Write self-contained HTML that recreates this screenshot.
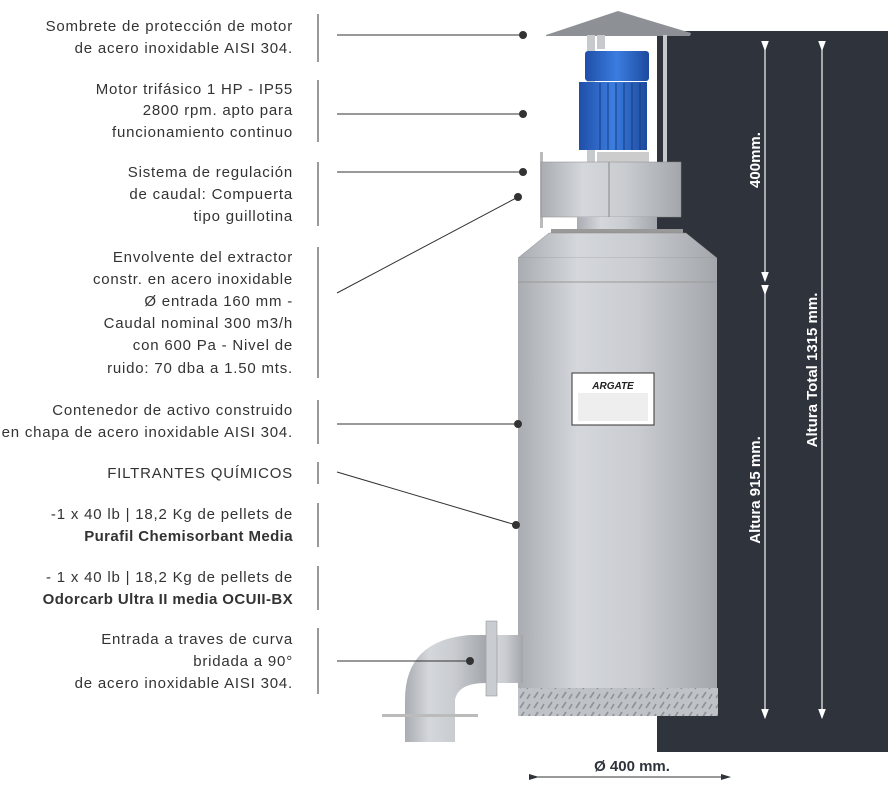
<!DOCTYPE html>
<html><head><meta charset="utf-8"><style>
body{margin:0;background:#fff;width:889px;height:781px;overflow:hidden;font-family:"Liberation Sans",sans-serif}
</style></head><body>
<svg width="889" height="781" viewBox="0 0 889 781" xmlns="http://www.w3.org/2000/svg">
<defs>
<linearGradient id="steel" x1="0" x2="1" y1="0" y2="0">
<stop offset="0" stop-color="#a9adb2"/><stop offset="0.3" stop-color="#d4d7db"/><stop offset="0.6" stop-color="#c9ccd0"/><stop offset="1" stop-color="#a3a7ac"/></linearGradient>
<linearGradient id="blue" x1="0" x2="1"><stop offset="0" stop-color="#1f4fa8"/><stop offset="0.5" stop-color="#3b7de0"/><stop offset="1" stop-color="#1d4a9e"/></linearGradient>
<pattern id="dia" width="14" height="10" patternUnits="userSpaceOnUse"><rect width="14" height="10" fill="#bfc2c6"/><path d="M2 8 L6 2 M9 9 L12 4" stroke="#8e9297" stroke-width="1.6"/></pattern>
<marker id="ah" markerWidth="8" markerHeight="8" refX="4" refY="4" orient="auto"><path d="M0 1 L8 4 L0 7Z" fill="#fff"/></marker>
<marker id="ahd" markerWidth="10" markerHeight="8" refX="5" refY="4" orient="auto"><path d="M0 1 L10 4 L0 7Z" fill="#2f343c"/></marker>
</defs>
<rect x="657" y="31" width="231" height="721" fill="#2f343c"/>
<g stroke="#e8e8e8" stroke-width="1.3">
<line x1="765" y1="46" x2="765" y2="277" marker-start="url(#ah)" marker-end="url(#ah)"/>
<line x1="765" y1="290" x2="765" y2="714" marker-start="url(#ah)" marker-end="url(#ah)"/>
<line x1="822" y1="46" x2="822" y2="714" marker-start="url(#ah)" marker-end="url(#ah)"/>
</g>
<g fill="#fff" font-weight="bold" font-size="15">
<text transform="translate(760,160) rotate(-90)" text-anchor="middle">400mm.</text>
<text transform="translate(760,490) rotate(-90)" text-anchor="middle">Altura 915 mm.</text>
<text transform="translate(817,370) rotate(-90)" text-anchor="middle">Altura Total 1315 mm.</text>
</g>
<polygon points="546,35 618,11 691,33 690,36 546,36" fill="#8d9196"/>
<rect x="587" y="35" width="8" height="128" fill="#c7cacd"/>
<rect x="597" y="35" width="8" height="14" fill="#c7cacd"/>
<rect x="663" y="35" width="4" height="128" fill="#c7cacd"/>
<rect x="585" y="51" width="64" height="30" rx="3" fill="url(#blue)"/>
<rect x="579" y="82" width="68" height="68" fill="url(#blue)"/>
<g stroke="#163a80" stroke-width="1"><line x1="600" y1="83" x2="600" y2="150"/><line x1="608" y1="83" x2="608" y2="150"/><line x1="616" y1="83" x2="616" y2="150"/><line x1="624" y1="83" x2="624" y2="150"/><line x1="632" y1="83" x2="632" y2="150"/><line x1="640" y1="83" x2="640" y2="150"/></g>
<rect x="597" y="152" width="52" height="10" fill="#ccc"/>
<rect x="540" y="152" width="3" height="76" fill="#bbb"/>
<rect x="541" y="162" width="140" height="55" fill="url(#steel)" stroke="#888" stroke-width="0.5"/>
<line x1="609" y1="162" x2="609" y2="217" stroke="#888"/>
<rect x="577" y="217" width="80" height="12" fill="url(#steel)"/>
<rect x="551" y="229" width="132" height="4" fill="#999"/>
<polygon points="549,233 686,233 717,258 518,258" fill="url(#steel)" stroke="#888" stroke-width="0.5"/>
<rect x="518" y="258" width="199" height="430" fill="url(#steel)"/>
<line x1="518" y1="282" x2="717" y2="282" stroke="#999"/>
<rect x="518" y="688" width="200" height="28" fill="url(#dia)"/>
<rect x="572" y="373" width="82" height="52" fill="#fff" stroke="#333"/>
<text x="613" y="389" font-size="10" font-weight="bold" font-style="italic" text-anchor="middle" fill="#222">ARGATE</text>
<rect x="578" y="393" width="70" height="28" fill="#eee"/>
<rect x="480" y="635" width="43" height="48" fill="url(#steel)"/>
<rect x="486" y="621" width="11" height="75" fill="#c9ccd0" stroke="#888" stroke-width="0.5"/>
<path d="M486 635 L470 635 Q405 640 405 700 L405 742 L455 742 L455 700 Q458 683 486 683 Z" fill="url(#steel)"/>
<rect x="382" y="714" width="96" height="3" fill="#bbb"/>
<g stroke="#333" stroke-width="1" fill="#333">
<line x1="318" y1="14" x2="318" y2="62"/><line x1="337" y1="35" x2="523" y2="35"/><circle cx="523" cy="35" r="3.5"/>
<line x1="318" y1="80" x2="318" y2="142"/><line x1="337" y1="114" x2="523" y2="114"/><circle cx="523" cy="114" r="3.5"/>
<line x1="318" y1="162" x2="318" y2="226"/><line x1="337" y1="172" x2="523" y2="172"/><circle cx="523" cy="172" r="3.5"/>
<line x1="318" y1="247" x2="318" y2="378"/><line x1="337" y1="293" x2="518" y2="197"/><circle cx="518" cy="197" r="3.5"/>
<line x1="318" y1="400" x2="318" y2="444"/><line x1="337" y1="424" x2="518" y2="424"/><circle cx="518" cy="424" r="3.5"/>
<line x1="318" y1="462" x2="318" y2="484"/><line x1="337" y1="472" x2="516" y2="525"/><circle cx="516" cy="525" r="3.5"/>
<line x1="318" y1="503" x2="318" y2="547"/>
<line x1="318" y1="566" x2="318" y2="610"/>
<line x1="318" y1="628" x2="318" y2="694"/><line x1="337" y1="661" x2="470" y2="661"/><circle cx="470" cy="661" r="3.5"/>
<line x1="534" y1="777" x2="726" y2="777" marker-start="url(#ahd)" marker-end="url(#ahd)"/>
</g>
<text x="632" y="771" font-size="15" font-weight="bold" text-anchor="middle" fill="#2f343c">Ø 400 mm.</text>
<g font-size="15" fill="#333" text-anchor="end" letter-spacing="0.8">
<text x="293" y="31">Sombrete de protección de motor</text><text x="293" y="53">de acero inoxidable AISI 304.</text>
<text x="293" y="94">Motor trifásico 1 HP - IP55</text><text x="293" y="115">2800 rpm. apto para</text><text x="293" y="137">funcionamiento continuo</text>
<text x="293" y="177">Sistema de regulación</text><text x="293" y="199">de caudal: Compuerta</text><text x="293" y="221">tipo guillotina</text>
<text x="293" y="262">Envolvente del extractor</text><text x="293" y="284">constr. en acero inoxidable</text><text x="293" y="306">Ø entrada 160 mm -</text><text x="293" y="328">Caudal nominal 300 m3/h</text><text x="293" y="350">con 600 Pa - Nivel de</text><text x="293" y="373">ruido: 70 dba a 1.50 mts.</text>
<text x="293" y="415">Contenedor de activo construido</text><text x="293" y="437">en chapa de acero inoxidable AISI 304.</text>
<text x="293" y="478">FILTRANTES QUÍMICOS</text>
<text x="293" y="519">-1 x 40 lb | 18,2 Kg de pellets de</text><text x="293" y="541" font-weight="bold" letter-spacing="0.4">Purafil Chemisorbant Media</text>
<text x="293" y="582">- 1 x 40 lb | 18,2 Kg de pellets de</text><text x="293" y="604" font-weight="bold" letter-spacing="0.4">Odorcarb Ultra II media OCUII-BX</text>
<text x="293" y="644">Entrada a traves de curva</text><text x="293" y="666">bridada a 90°</text><text x="293" y="688">de acero inoxidable AISI 304.</text>
</g>
</svg>
</body></html>
